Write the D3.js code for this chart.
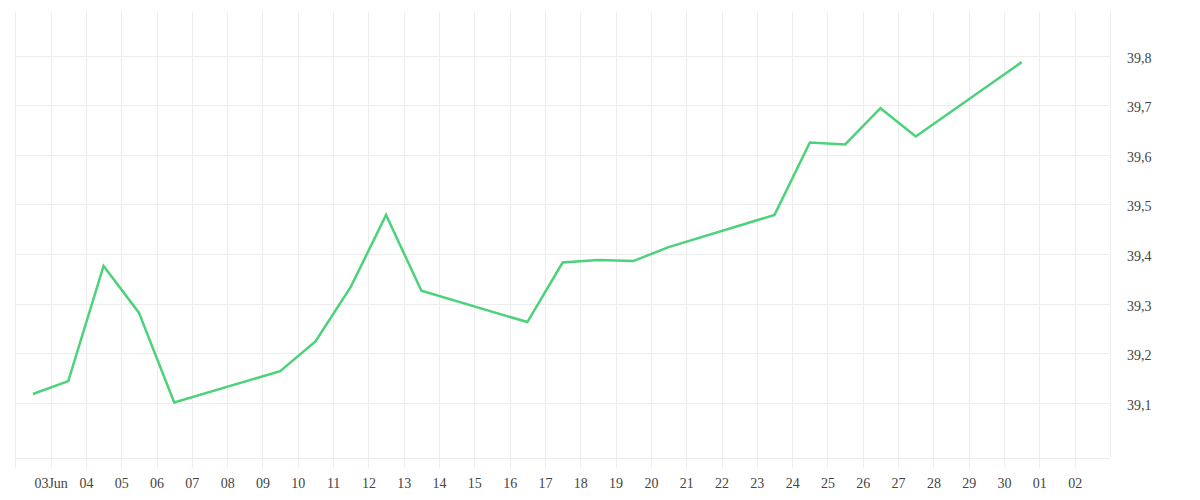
<!DOCTYPE html>
<html>
<head>
<meta charset="utf-8">
<script src="https://cdn.jsdelivr.net/npm/d3@7"></script>
<style>
    body { margin: 0; background: #fff; }
    svg text { font-family: "Liberation Serif", "DejaVu Serif", serif; font-size: 14px; fill: #444; }
</style>
</head>
<body>
<div id="chart"></div>
<script>
// daily closes, taken at midday (weekdays only)
const dates = [
    "2025-06-02", "2025-06-03", "2025-06-04", "2025-06-05", "2025-06-06",
    "2025-06-09", "2025-06-10", "2025-06-11", "2025-06-12", "2025-06-13",
    "2025-06-16", "2025-06-17", "2025-06-18", "2025-06-19", "2025-06-20",
    "2025-06-23", "2025-06-24", "2025-06-25", "2025-06-26", "2025-06-27",
    "2025-06-30"
];
const values = [
    39.118, 39.144, 39.376, 39.282, 39.101,
    39.164, 39.224, 39.334, 39.479, 39.326,
    39.263, 39.383, 39.388, 39.386, 39.414,
    39.479, 39.625, 39.621, 39.694, 39.637,
    39.787
];

// x tick labels, one per day from 3 June
const xTickLabels = [
    "03Jun", "04", "05", "06", "07", "08", "09", "10", "11", "12",
    "13", "14", "15", "16", "17", "18", "19", "20", "21", "22",
    "23", "24", "25", "26", "27", "28", "29", "30", "01", "02"
];
const yTicks = [39.1, 39.2, 39.3, 39.4, 39.5, 39.6, 39.7, 39.8];

const W = 1200, H = 500;
const plot = { left: 15.3, right: 1110, top: 12, bottom: 458 };

const parse = d3.timeParse("%Y-%m-%d");
const data = dates.map((d, i) => {
    const t = parse(d);
    t.setHours(12);
    return { date: t, value: values[i] };
});

const start = parse("2025-06-02");
const end = parse("2025-07-03");

const x = d3.scaleTime().domain([start, end]).range([plot.left, plot.right]);
const y = d3.scaleLinear().domain([38.989, 39.888]).range([plot.bottom, plot.top]);

const svg = d3.select("#chart").append("svg")
    .attr("width", W)
    .attr("height", H);

// vertical grid, one line per day (ticks stick out under the axis)
const days = d3.timeDay.range(start, d3.timeDay.offset(end, 1));
svg.append("g")
    .selectAll("line")
    .data(days)
    .enter().append("line")
    .attr("x1", d => Math.round(x(d)) + 0.5)
    .attr("x2", d => Math.round(x(d)) + 0.5)
    .attr("y1", plot.top)
    .attr("y2", (d, i) => i === days.length - 1 ? plot.bottom : plot.bottom + 10)
    .attr("stroke", "#ededed")
    .attr("stroke-width", 1);

// horizontal grid + bottom border
svg.append("g")
    .selectAll("line")
    .data(yTicks)
    .enter().append("line")
    .attr("x1", plot.left)
    .attr("x2", plot.right)
    .attr("y1", d => Math.round(y(d)) + 0.5)
    .attr("y2", d => Math.round(y(d)) + 0.5)
    .attr("stroke", "#ededed");

svg.append("line")
    .attr("x1", plot.left)
    .attr("x2", plot.right)
    .attr("y1", plot.bottom + 0.5)
    .attr("y2", plot.bottom + 0.5)
    .attr("stroke", "#ededed");

// y axis on the right, comma decimals
const fmt = d => d3.format(".1f")(d).replace(".", ",");
const yAxis = d3.axisRight(y)
    .tickValues(yTicks)
    .tickFormat(fmt)
    .tickSize(0)
    .tickPadding(17);
svg.append("g")
    .attr("transform", "translate(" + plot.right + ",2)")
    .call(yAxis)
    .call(g => g.select(".domain").remove())
    .selectAll("text")
    .attr("fill", "#444");

// x axis labels
const tickDates = xTickLabels.map((l, i) => d3.timeDay.offset(start, i + 1));
const xAxis = d3.axisBottom(x)
    .tickValues(tickDates)
    .tickFormat((d, i) => xTickLabels[i])
    .tickSize(0)
    .tickPadding(20);
svg.append("g")
    .attr("transform", "translate(0," + plot.bottom + ")")
    .call(xAxis)
    .call(g => g.select(".domain").remove())
    .selectAll("text")
    .attr("fill", "#444");

// the line
const line = d3.line()
    .x(d => x(d.date))
    .y(d => y(d.value));

svg.append("path")
    .datum(data)
    .attr("fill", "none")
    .attr("stroke", "#4cd27a")
    .attr("stroke-width", 2.5)
    .attr("stroke-linejoin", "miter")
    .attr("d", line);
</script>
</body>
</html>
